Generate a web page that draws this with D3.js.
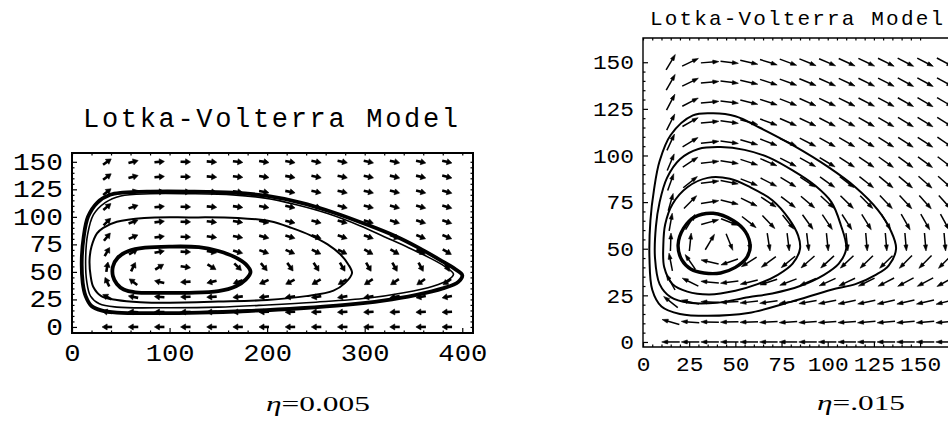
<!DOCTYPE html>
<html>
<head>
<meta charset="utf-8">
<script src="https://cdn.jsdelivr.net/npm/d3@7"></script>
<style>
  body { margin: 0; background: #fff; }
  text { fill: #000; }
</style>
</head>
<body>
<div id="chart"></div>
<script>
// ---- data ----
// left panel, eta = 0.005 : vector field grid + arrow directions (degrees, data space)
var leftTitle = "Lotka-Volterra Model";
var leftCaption = ["\u03b7", "=0.005"];
var leftXTicks = [0, 100, 200, 300, 400];
var leftYTicks = [0, 25, 50, 75, 100, 125, 150];
var leftGridX = [36, 62.8, 89.6, 116.4, 143.2, 170, 196.8, 223.6, 250.4, 277.2, 304, 330.8, 357.6, 384.4];
var leftGridY = [0, 13.6, 27.3, 40.9, 54.5, 68.2, 81.8, 95.5, 109.1, 122.7, 136.4, 150];
var leftAngles = [
  [180,180,180,180,180,180,180,180,180,180,180,180,180,180],
  [171,177,179,180,181,182,182,182,182,183,183,183,183,183],
  [154,170,177,181,183,185,186,187,188,188,189,189,189,190],
  [118,146,168,183,192,198,202,205,207,208,210,211,212,213],
  [79,61,29,-8,-29,-41,-47,-51,-54,-56,-57,-58,-59,-60],
  [57,29,10,-2,-10,-15,-18,-21,-23,-24,-26,-27,-27,-28],
  [47,21,7,-2,-7,-10,-13,-15,-16,-17,-18,-19,-20,-20],
  [41,18,6,-1,-6,-8,-11,-12,-13,-14,-15,-16,-16,-17],
  [37,16,5,-1,-5,-7,-9,-11,-12,-13,-13,-14,-14,-15],
  [35,14,4,-1,-5,-7,-9,-10,-11,-12,-12,-13,-13,-14],
  [33,13,4,-1,-4,-6,-8,-9,-10,-11,-11,-12,-12,-13],
  [32,13,4,-1,-4,-6,-8,-9,-10,-10,-11,-11,-12,-12]
];
// left trajectories [x, y]
var leftOuter = [[400,47],[392,53],[377,61],[355,72],[330,83],[302,93],[268,104],[234,113],[200,119],[165,122],[120,123],[80,123],[52,122],[39,120],[26,113],[16.4,100],[12,82],[10,61],[11,40],[14,28],[20,19],[30,15],[46,13],[90,12.5],[131,13],[180,14.5],[234,17],[280,20],[319,24],[352,29],[380,35],[396,41]];
var leftOuter2 = [[391,48],[382,55],[366,63],[345,72],[320,82],[295,92],[262,103],[230,111],[198,117],[165,120],[120,121],[80,121],[50,119],[34,113],[22,102],[16,84],[14,62],[15,42],[19,28],[28,21],[46,18],[100,17.5],[150,18],[200,20],[250,22.5],[302,26],[340,31],[370,37],[386,43]];
var leftMiddle = [[287,49],[283,57],[275,66],[262,75],[245,83],[225,90],[203,96],[170,99],[120,99.5],[74,99],[46,95.5],[32,90],[25.6,85],[20,73],[18,61],[19,47],[22,36],[30,28],[46,24.5],[70,22.5],[97,22],[150,23],[200,24.5],[240,28],[268,33],[280,40]];
var leftInner = [[183,50],[178,57],[168,63],[150,69],[130,72.5],[100,73],[75,72],[58,69],[47,63],[42,55],[42,46],[46,39],[53,34],[65,31.5],[90,31],[120,31],[150,32.5],[168,37],[178,43]];

// right panel, eta = .015
var rightTitle = "Lotka-Volterra Model";
var rightCaption = ["\u03b7", "=.015"];
var rightXTicks = [0, 25, 50, 75, 100, 125, 150];
var rightYTicks = [0, 25, 50, 75, 100, 125, 150];
var rightGridX = [15, 25.6, 36.2, 46.8, 57.4, 68, 78.6, 89.2, 99.8, 110.4, 121, 131.6, 142.2, 152.8, 163.4];
var rightGridY = [0, 10.7, 21.4, 32.1, 42.9, 53.6, 64.3, 75, 85.7, 96.4, 107.1, 117.9, 128.6, 139.3, 150];
var rightAngles = [
  [180,180,180,180,180,180,180,180,180,180,180,180,180,180,180],
  [164,176,179,181,182,183,184,184,184,184,185,185,185,185,185],
  [142,168,178,183,186,188,189,190,191,192,192,193,193,193,194],
  [119,154,175,187,194,198,201,203,204,205,206,207,208,208,209],
  [101,125,167,199,212,216,219,221,222,223,224,224,225,225,225],
  [88,84,59,-68,-79,-81,-83,-83,-84,-84,-85,-85,-85,-85,-85],
  [80,58,15,-21,-38,-46,-51,-54,-56,-57,-58,-59,-60,-60,-61],
  [74,45,9,-14,-26,-33,-37,-40,-42,-44,-45,-46,-47,-48,-48],
  [70,38,7,-11,-21,-27,-31,-33,-35,-37,-38,-39,-40,-41,-41],
  [67,33,6,-9,-18,-23,-27,-29,-31,-33,-34,-35,-36,-36,-37],
  [65,31,6,-8,-16,-21,-24,-27,-29,-30,-31,-32,-33,-33,-34],
  [63,29,5,-8,-15,-20,-23,-25,-27,-28,-29,-30,-31,-31,-32],
  [62,27,5,-7,-14,-18,-21,-24,-25,-26,-27,-28,-29,-30,-30],
  [60,26,5,-7,-13,-18,-20,-22,-24,-25,-26,-27,-28,-28,-29],
  [59,25,4,-7,-13,-17,-20,-22,-23,-24,-25,-26,-27,-27,-28]
];
var rightOrbit4 = [[137,50],[133,41],[126,36],[115,31],[102,28],[80,21.5],[57,15.5],[35,14],[20,15],[10,19],[5,28],[3.5,45],[4,65],[6,82],[9,97],[15,111],[27,121.5],[38,122.6],[50,121],[63,115],[82,105],[100,94],[115,83],[127,71],[134,60]];
var rightOrbit3 = [[110,50],[106,42],[98,36],[85,30],[70,26],[57,24],[40,21],[25,21],[15,24],[9,31],[6.5,45],[7,62],[9,75],[13,88],[20,98],[30,103.5],[42,104.5],[55,103],[68,99],[81,92],[93,84],[102,75],[107,63]];
var rightOrbit2 = [[85,50],[81,42],[73,36],[62,31],[50,27.5],[36,25.5],[24,27],[16,31],[11.5,40],[11,52],[12,63],[16,74],[24,83],[35,88],[47,87.5],[58,83],[70,76],[79,66],[84,57]];
var rightOrbit1 = [[58,51],[55.5,59],[49,65],[38,69],[28,67],[22,61],[19,52],[21,44],[26,39],[33,37],[42,37],[50,40],[56,45]];

// ---- drawing ----
var width = 948, height = 426;
var svg = d3.select("#chart").append("svg")
    .attr("width", width)
    .attr("height", height);
svg.append("rect").attr("width", width).attr("height", height).attr("fill", "#fff");

var xL = d3.scaleLinear().domain([0, 411]).range([72, 473]);
var yL = d3.scaleLinear().domain([-5.5, 158]).range([333, 153]);
var xR = d3.scaleLinear().domain([0, 166.2]).range([643, 950]);
var yR = d3.scaleLinear().domain([-2.7, 163]).range([347, 38]);

// arrows centred on grid points
function drawField(g, xs, ys, angles, x, y, opt) {
    var sx = Math.abs(x(1) - x(0)), sy = Math.abs(y(1) - y(0));
    var cells = [];
    ys.forEach(function (yv, j) {
        xs.forEach(function (xv, i) {
            var a = angles[j][i] * Math.PI / 180;
            var dx = Math.cos(a) * sx, dy = -Math.sin(a) * sy;
            var n = Math.sqrt(dx * dx + dy * dy);
            cells.push({cx: x(xv), cy: y(yv), dx: dx / n, dy: dy / n});
        });
    });
    var L = opt.len, H = opt.head, W = opt.headW;
    g.selectAll("line.shaft")
        .data(cells)
        .enter()
        .append("line")
        .attr("class", "shaft")
        .attr("x1", function (d) { return d.cx - d.dx * L / 2; })
        .attr("y1", function (d) { return d.cy - d.dy * L / 2; })
        .attr("x2", function (d) { return d.cx + d.dx * (L / 2 - H * 0.6); })
        .attr("y2", function (d) { return d.cy + d.dy * (L / 2 - H * 0.6); })
        .attr("stroke", "#000")
        .attr("stroke-width", opt.sw);
    g.selectAll("path.head")
        .data(cells)
        .enter()
        .append("path")
        .attr("class", "head")
        .attr("d", function (d) {
            var tx = d.cx + d.dx * L / 2, ty = d.cy + d.dy * L / 2;
            var bx = tx - d.dx * H, by = ty - d.dy * H;
            var nx = -d.dy * W / 2, ny = d.dx * W / 2;
            return "M" + tx + "," + ty + "L" + (bx + nx) + "," + (by + ny) + "L" + (bx - nx) + "," + (by - ny) + "Z";
        })
        .attr("fill", "#000")
        .attr("stroke", "#000")
        .attr("stroke-width", 0.6);
}

function drawOrbit(g, pts, x, y, sw) {
    var line = d3.line()
        .x(function (d) { return x(d[0]); })
        .y(function (d) { return y(d[1]); })
        .curve(d3.curveCatmullRomClosed.alpha(0.5));
    g.append("path")
        .attr("d", line(pts))
        .attr("fill", "none")
        .attr("stroke", "#000")
        .attr("stroke-width", sw)
        .attr("stroke-linejoin", "round");
}

function minorTicks(ticks) {
    var out = [];
    for (var i = 0; i < ticks.length - 1; i++) {
        var step = (ticks[i + 1] - ticks[i]) / 5;
        for (var k = 1; k < 5; k++) out.push(ticks[i] + k * step);
    }
    return out;
}

// perChar: width of one glyph cell in px (labels in the scan are stretched)
function styleAxis(g, size, perChar) {
    g.select(".domain").remove();
    g.selectAll("line").attr("stroke", "#000").attr("stroke-width", 1.2);
    g.selectAll("text")
        .attr("font-family", "'Liberation Mono', 'DejaVu Sans Mono', monospace")
        .attr("font-size", size)
        .attr("fill", "#000");
    if (perChar) {
        g.selectAll("text")
            .attr("textLength", function () { return this.textContent.length * perChar; })
            .attr("lengthAdjust", "spacingAndGlyphs");
    }
}

// ---- left panel ----
var gL = svg.append("g");
var fieldL = gL.append("g");
drawField(fieldL, leftGridX, leftGridY, leftAngles, xL, yL, {len: 10, head: 5, headW: 6, sw: 2.6});
drawOrbit(gL, leftOuter2, xL, yL, 1.6);
drawOrbit(gL, leftMiddle, xL, yL, 2);
drawOrbit(gL, leftOuter, xL, yL, 3.8);
drawOrbit(gL, leftInner, xL, yL, 3.8);

gL.append("rect")
    .attr("x", 72).attr("y", 153).attr("width", 401).attr("height", 180)
    .attr("fill", "none").attr("stroke", "#000").attr("stroke-width", 2);

var axLb = gL.append("g").attr("transform", "translate(0,333)")
    .call(d3.axisBottom(xL).tickValues(leftXTicks).tickSize(-5).tickPadding(11).tickFormat(d3.format("d")));
styleAxis(axLb, 23.5, 16.3);
var axLl = gL.append("g").attr("transform", "translate(72,0)")
    .call(d3.axisLeft(yL).tickValues(leftYTicks).tickSize(-5).tickPadding(9).tickFormat(d3.format("d")));
styleAxis(axLl, 23.5, 16.7);
[[d3.axisBottom(xL).tickValues(minorTicks(leftXTicks)), "translate(0,333)"],
 [d3.axisTop(xL).tickValues(minorTicks(leftXTicks).concat(leftXTicks)), "translate(0,153)"],
 [d3.axisLeft(yL).tickValues(minorTicks(leftYTicks)), "translate(72,0)"],
 [d3.axisRight(yL).tickValues(minorTicks(leftYTicks).concat(leftYTicks)), "translate(473,0)"]
].forEach(function (a) {
    var g = gL.append("g").attr("transform", a[1]).call(a[0].tickSize(-2.5).tickFormat(""));
    styleAxis(g, 10);
});

gL.append("text")
    .attr("x", 83).attr("y", 127)
    .attr("font-family", "'Liberation Mono', monospace")
    .attr("font-size", 27)
    .attr("textLength", 375)
    .text(leftTitle);

var capL = gL.append("text")
    .attr("x", 266).attr("y", 411)
    .attr("font-family", "'Liberation Serif', 'DejaVu Serif', serif")
    .attr("font-size", 22)
    .attr("textLength", 104)
    .attr("lengthAdjust", "spacingAndGlyphs");
capL.append("tspan").attr("font-style", "italic").text(leftCaption[0]);
capL.append("tspan").text(leftCaption[1]);

// ---- right panel ----
var gR = svg.append("g");
drawField(gR.append("g"), rightGridX, rightGridY, rightAngles, xR, yR, {len: 18, head: 6, headW: 4, sw: 1.5});
drawOrbit(gR, rightOrbit4, xR, yR, 2);
drawOrbit(gR, rightOrbit3, xR, yR, 2);
drawOrbit(gR, rightOrbit2, xR, yR, 2);
drawOrbit(gR, rightOrbit1, xR, yR, 3.4);

gR.append("path")
    .attr("d", "M950,38H643V347H950")
    .attr("fill", "none").attr("stroke", "#000").attr("stroke-width", 1.4);

var axRb = gR.append("g").attr("transform", "translate(0,347)")
    .call(d3.axisBottom(xR).tickValues(rightXTicks).tickSize(-5).tickPadding(9).tickFormat(d3.format("d")));
styleAxis(axRb, 21, 13.7);
var axRl = gR.append("g").attr("transform", "translate(643,0)")
    .call(d3.axisLeft(yR).tickValues(rightYTicks).tickSize(-5).tickPadding(9).tickFormat(d3.format("d")));
styleAxis(axRl, 21, 13.7);
[[d3.axisBottom(xR).tickValues(minorTicks(rightXTicks)), "translate(0,347)"],
 [d3.axisLeft(yR).tickValues(minorTicks(rightYTicks)), "translate(643,0)"],
 [d3.axisTop(xR).tickValues(minorTicks(rightXTicks).concat(rightXTicks)), "translate(0,38)"]
].forEach(function (a) {
    var g = gR.append("g").attr("transform", a[1]).call(a[0].tickSize(-2.5).tickFormat(""));
    styleAxis(g, 10);
});

gR.append("text")
    .attr("x", 650).attr("y", 25)
    .attr("font-family", "'Liberation Mono', monospace")
    .attr("font-size", 21)
    .attr("textLength", 293)
    .text(rightTitle);

var capR = gR.append("text")
    .attr("x", 817).attr("y", 410)
    .attr("font-family", "'Liberation Serif', 'DejaVu Serif', serif")
    .attr("font-size", 22)
    .attr("textLength", 88)
    .attr("lengthAdjust", "spacingAndGlyphs");
capR.append("tspan").attr("font-style", "italic").text(rightCaption[0]);
capR.append("tspan").text(rightCaption[1]);
</script>
</body>
</html>
